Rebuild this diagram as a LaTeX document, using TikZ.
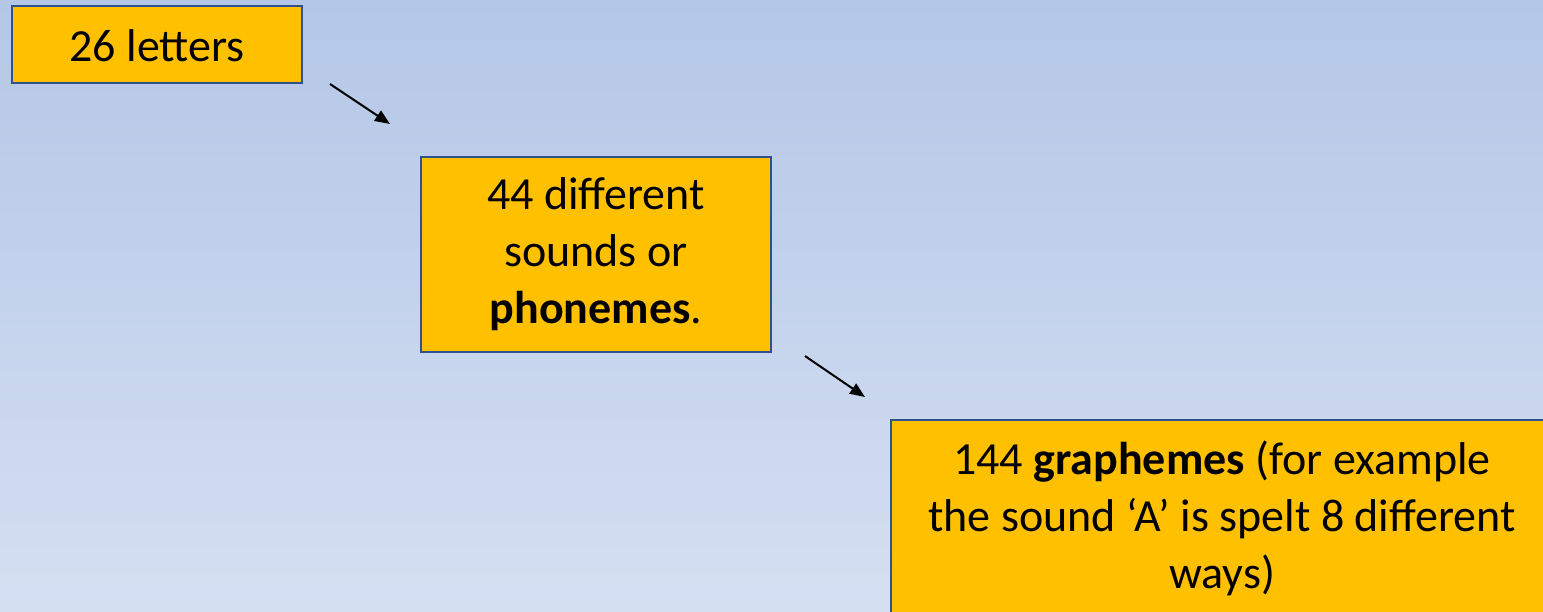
\documentclass[tikz,border=0pt]{standalone}
\usepackage{fontspec}
\setmainfont{Carlito}
\usepackage{tikz}
\usetikzlibrary{arrows.meta,positioning}
\definecolor{bgtop}{HTML}{B4C7E7}
\definecolor{bgbot}{HTML}{D5DFF2}
\definecolor{boxfill}{HTML}{FFC000}
\definecolor{boxline}{HTML}{2F528F}
\begin{document}
\begin{tikzpicture}[
  x=1pt, y=-1pt,
  font=\fontsize{46}{57}\selectfont,
  box/.style={draw=boxline, line width=1.5pt, fill=boxfill, align=center, inner sep=0pt},
  arr/.style={-{Triangle[length=15pt,width=12pt]}, line width=2pt, black}
]
\useasboundingbox (0,0) rectangle (1543,611);
\clip (0,0) rectangle (1543,611);
% background
\shade[top color=bgtop, bottom color=bgbot] (0,0) rectangle (1543,611);
% boxes
\node[box, minimum width=290pt, minimum height=77pt, text height=35pt] (letters) at (157,44.5) {26 letters};
\node[box, minimum width=350pt, minimum height=195pt] (sounds) at (596,254.5) {44 different\\ sounds or\\ \textbf{phonemes}.};
\node[box, anchor=north, minimum width=662pt, inner ysep=21pt, text depth=40pt] (graphemes) at (1222,419) {144 \textbf{graphemes} (for example\\ the sound `A' is spelt 8 different\\ ways)};
% arrows
\coordinate (a1) at (330,84);
\coordinate (b1) at (390,124);
\coordinate (a2) at (805,356);
\coordinate (b2) at (865,397);
\draw[arr] (a1) -- (b1);
\draw[arr] (a2) -- (b2);
\end{tikzpicture}
\end{document}
